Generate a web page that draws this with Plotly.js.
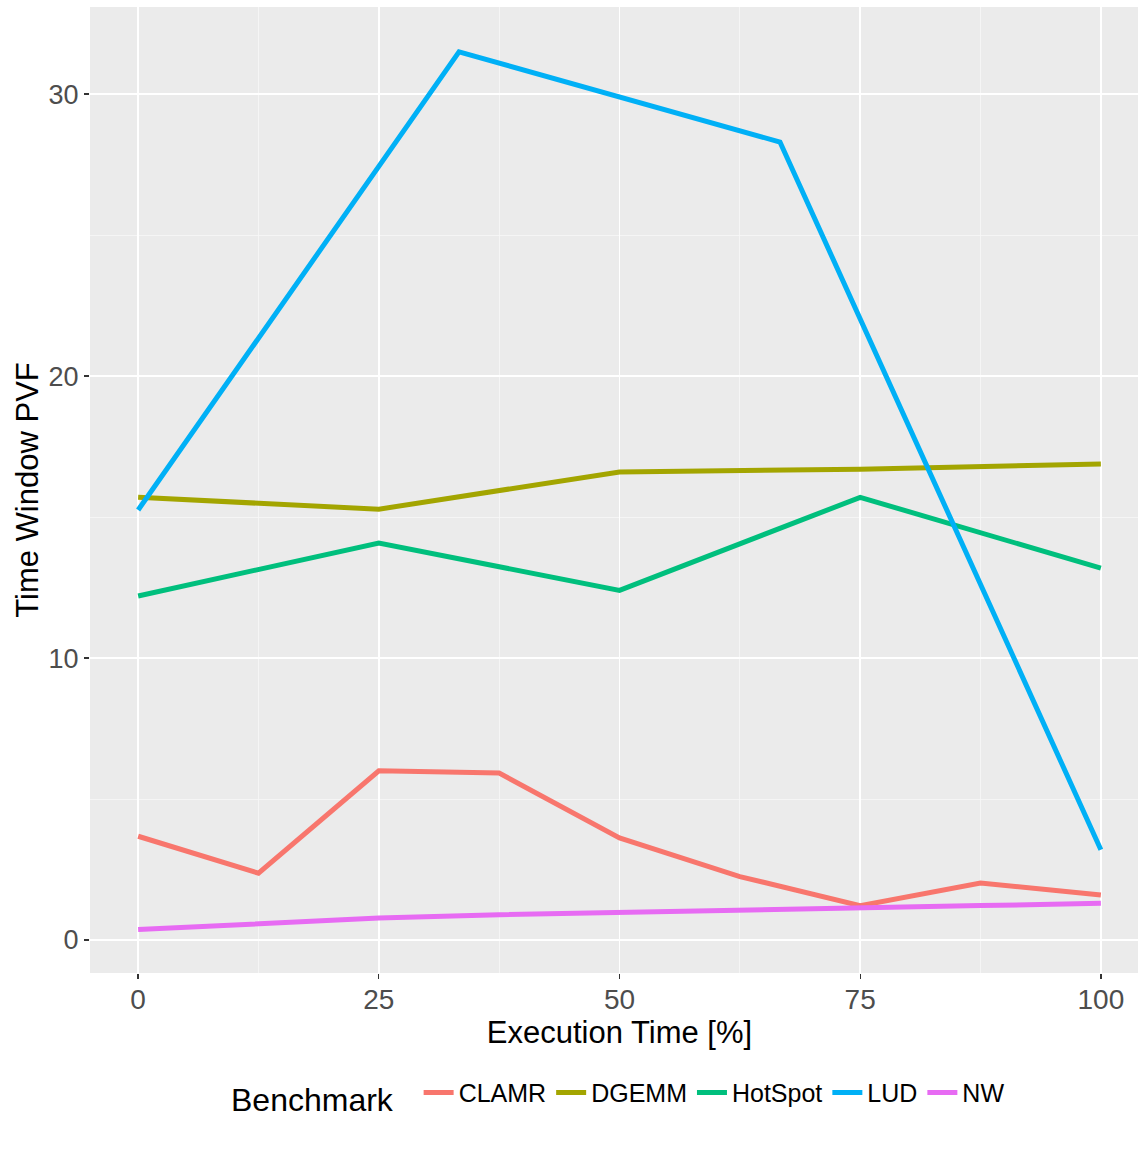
<!DOCTYPE html>
<html>
<head>
<meta charset="utf-8">
<script src="https://cdn.plot.ly/plotly-3.0.1.min.js"></script>
<style>
html, body { margin: 0; padding: 0; background: #ffffff; overflow: hidden; }
#chart { width: 1149px; height: 1154px; }
</style>
</head>
<body>
<div id="chart"></div>
<script>
// Data
var benchmarks = ["CLAMR", "DGEMM", "HotSpot", "LUD", "NW"];
var colors = ["#F8766D", "#A3A500", "#00BF7D", "#00B0F6", "#E76BF3"];

var xEighths = [0, 12.5, 25, 37.5, 50, 62.5, 75, 87.5, 100];
var xQuarters = [0, 25, 50, 75, 100];
var xThirds = [0, 33.33, 66.67, 100];

var clamrPVF = [3.68, 2.37, 6.0, 5.92, 3.62, 2.25, 1.22, 2.02, 1.6];
var dgemmPVF = [15.7, 15.28, 16.6, 16.7, 16.88];
var hotspotPVF = [12.2, 14.08, 12.4, 15.7, 13.19];
var ludPVF = [15.25, 31.5, 28.3, 3.2];
var nwPVF = [0.37, 0.58, 0.78, 0.9, 0.97, 1.05, 1.13, 1.22, 1.3];

var xTickVals = [0, 25, 50, 75, 100];
var yTickVals = [0, 10, 20, 30];

var seriesX = [xEighths, xQuarters, xQuarters, xThirds, xEighths];
var seriesY = [clamrPVF, dgemmPVF, hotspotPVF, ludPVF, nwPVF];

var traces = benchmarks.map(function (name, i) {
  return {
    type: "scatter",
    mode: "lines",
    name: name,
    x: seriesX[i],
    y: seriesY[i],
    line: { color: colors[i], width: 5 },
    hoverinfo: "x+y+name"
  };
});

var font = "Liberation Sans, Arial, Helvetica, sans-serif";

var layout = {
  width: 1149,
  height: 1154,
  margin: { l: 90, r: 0, t: 7, b: 181 },
  paper_bgcolor: "#ffffff",
  plot_bgcolor: "#EBEBEB",
  font: { family: font, color: "#000000" },
  showlegend: true,
  xaxis: {
    range: [-5, 105],
    tickmode: "array",
    tickvals: xTickVals,
    ticktext: xTickVals.map(String),
    showgrid: true,
    gridcolor: "#ffffff",
    gridwidth: 1.6,
    zeroline: false,
    showline: false,
    ticks: "outside",
    ticklen: 5,
    tickwidth: 1.3,
    tickcolor: "#333333",
    ticklabelstandoff: -4,
    tickfont: { family: font, size: 28, color: "#4D4D4D" },
    minor: { tickmode: "array", tickvals: [12.5, 37.5, 62.5, 87.5], showgrid: true, gridcolor: "#F7F7F7", gridwidth: 0.8, ticks: "" },
    title: { text: "Execution Time [%]", font: { family: font, size: 31, color: "#000000" }, standoff: 2 }
  },
  yaxis: {
    range: [-1.17, 33.09],
    tickmode: "array",
    tickvals: yTickVals,
    ticktext: yTickVals.map(String),
    showgrid: true,
    gridcolor: "#ffffff",
    gridwidth: 1.6,
    zeroline: false,
    showline: false,
    ticks: "outside",
    ticklen: 5,
    tickwidth: 1.3,
    tickcolor: "#333333",
    tickfont: { family: font, size: 27, color: "#4D4D4D" },
    minor: { tickmode: "array", tickvals: [5, 15, 25], showgrid: true, gridcolor: "#F7F7F7", gridwidth: 0.8, ticks: "" },
    title: { text: "Time Window PVF", font: { family: font, size: 31, color: "#000000" }, standoff: 0 }
  },
  legend: {
    orientation: "h",
    x: 0.5,
    xanchor: "center",
    y: -0.127,
    yanchor: "middle",
    bgcolor: "#ffffff",
    font: { family: font, size: 25, color: "#000000" },
    title: { text: "Benchmark  ", side: "left", font: { family: font, size: 32, color: "#000000" } },
    itemwidth: 30,
    tracegroupgap: 0
  }
};

Plotly.newPlot("chart", traces, layout, { displayModeBar: false, staticPlot: true });
</script>
</body>
</html>
